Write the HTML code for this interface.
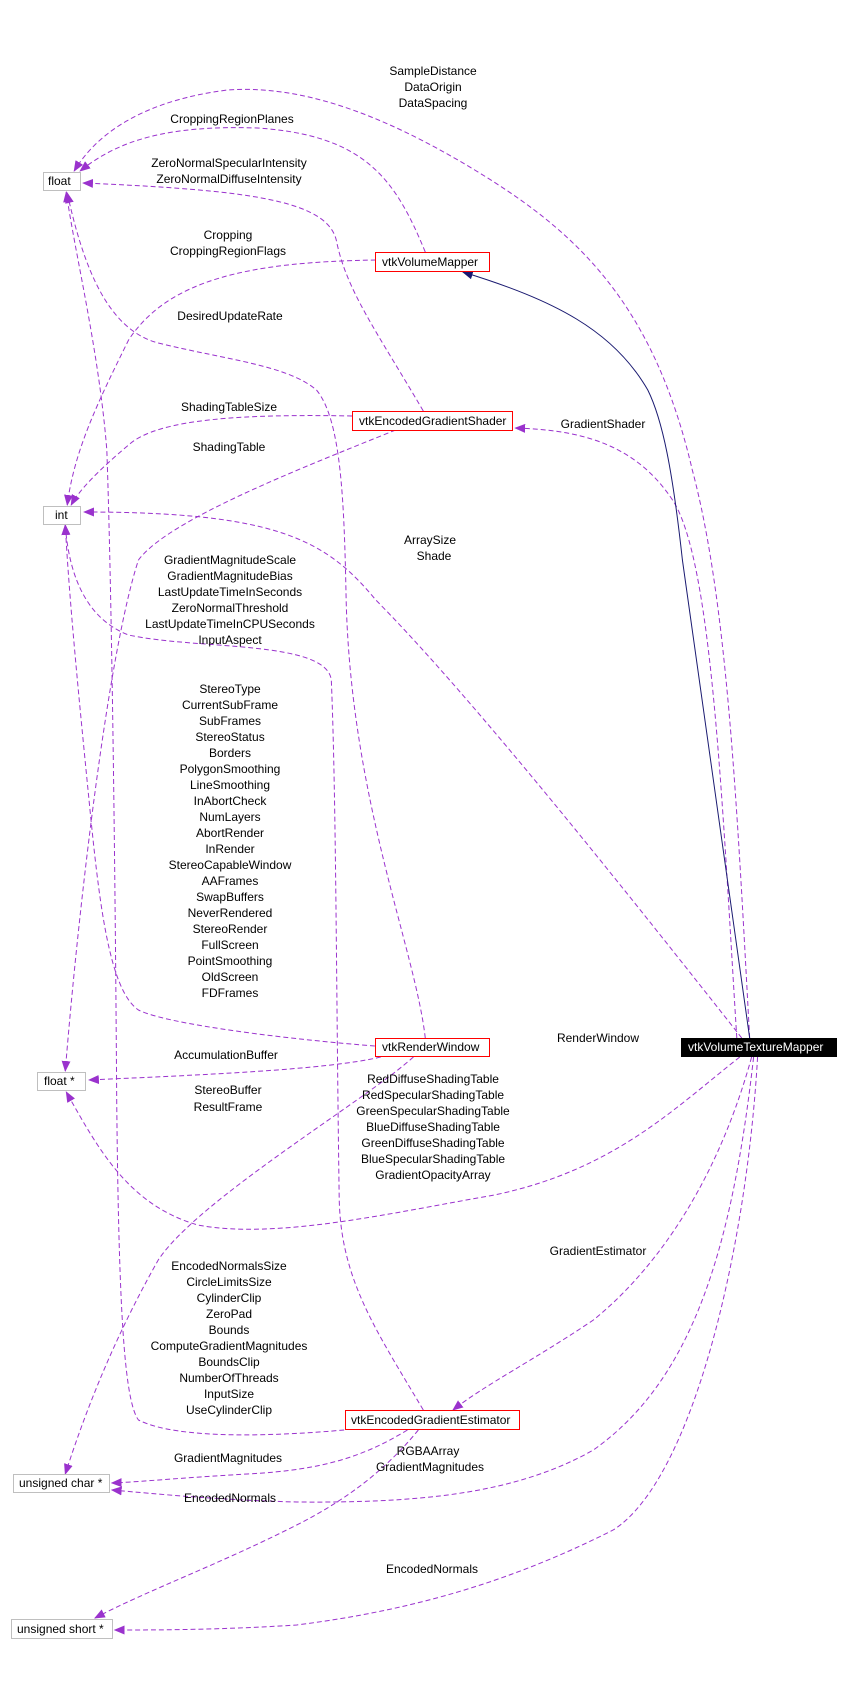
<!DOCTYPE html>
<html><head><meta charset="utf-8"><style>
html,body{margin:0;padding:0;background:#fff}
svg{display:block}
text{font-family:"Liberation Sans",Arial,sans-serif;font-size:12px;fill:#000}
</style></head><body>
<svg width="850" height="1685" viewBox="0 0 850 1685" xmlns="http://www.w3.org/2000/svg">
<defs>
<marker id="p" markerWidth="11" markerHeight="9" refX="10" refY="4.5" orient="auto" markerUnits="userSpaceOnUse"><path d="M0,0 L11,4.5 L0,9 Z" fill="#9a32cd"/></marker>
<marker id="n" markerWidth="11" markerHeight="9" refX="10" refY="4.5" orient="auto" markerUnits="userSpaceOnUse"><path d="M0,0 L11,4.5 L0,9 Z" fill="#191970"/></marker>
</defs>
<g fill="none" stroke="#9a32cd" stroke-width="1" stroke-dasharray="5,3" marker-end="url(#p)" transform="scale(0.989,1)">
<path d="M758 1038 C745 800,735 600,700 470 C660 300,580 230,480 170 C380 110,300 85,230 90 C150 100,100 130,75 171"/>
<path d="M430 252 C400 180,370 135,260 128 C170 125,120 140,81 171"/>
<path d="M428 411 C380 330,350 290,340 240 C330 200,250 190,84 183"/>
<path d="M380 260 C250 262,170 280,130 340 C100 400,75 450,68 505"/>
<path d="M430 1038 C420 950,355 800,350 600 C348 500,345 420,320 390 C290 365,230 360,160 343 C110 330,85 270,68 193"/>
<path d="M356 416 C250 414,160 418,130 445 C100 470,80 490,72 505"/>
<path d="M400 430 C300 470,170 520,140 560 C110 650,80 900,66 1071"/>
<path d="M750 1038 C640 900,480 700,380 600 C330 540,280 512,85 512"/>
<path d="M745 1038 C730 800,720 560,680 500 C640 440,580 430,521 428"/>
<path d="M379 1046 C300 1040,170 1025,140 1010 C110 990,100 900,90 800 C80 700,70 600,66 525"/>
<path d="M385 1057 C330 1070,200 1075,90 1080"/>
<path d="M418 1057 C370 1100,200 1200,160 1260 C120 1330,90 1400,66 1474"/>
<path d="M748 1057 C680 1110,620 1170,500 1195 C400 1212,280 1240,200 1225 C130 1205,100 1150,67 1092"/>
<path d="M760 1057 C720 1200,650 1280,600 1320 C540 1360,490 1385,458 1410"/>
<path d="M428 1410 C380 1330,345 1280,343 1200 C340 1000,340 800,335 680 C330 640,200 650,130 635 C90 620,70 580,66 525"/>
<path d="M348 1430 C280 1436,180 1440,140 1420 C125 1400,120 1300,118 1100 C116 800,112 560,108 450 C100 350,75 250,67 192"/>
<path d="M412 1430 C370 1455,330 1470,250 1474 C180 1478,140 1482,113 1483"/>
<path d="M423 1430 C390 1470,350 1500,300 1525 C220 1565,150 1590,96 1618"/>
<path d="M762 1057 C740 1250,700 1380,600 1450 C520 1495,420 1503,300 1502 C220 1500,160 1494,113 1490"/>
<path d="M766 1057 C755 1250,700 1480,620 1530 C520 1580,420 1610,300 1625 C220 1630,160 1630,116 1630"/>
<path d="M758 1038 L690 560 C680 470,670 420,655 390 C620 330,560 300,468 272" stroke="#191970" stroke-dasharray="none" marker-end="url(#n)"/>
</g>
<g stroke-width="1">
<rect x="43.5" y="172.5" width="37" height="18" fill="#fff" stroke="#bfbfbf"/>
<rect x="43.5" y="506.5" width="37" height="18" fill="#fff" stroke="#bfbfbf"/>
<rect x="37.5" y="1072.5" width="48" height="18" fill="#fff" stroke="#bfbfbf"/>
<rect x="13.5" y="1474.5" width="96" height="18" fill="#fff" stroke="#bfbfbf"/>
<rect x="11.5" y="1619.5" width="101" height="19" fill="#fff" stroke="#bfbfbf"/>
<rect x="375.5" y="252.5" width="114" height="19" fill="#fff" stroke="#ff0000"/>
<rect x="352.5" y="411.5" width="160" height="19" fill="#fff" stroke="#ff0000"/>
<rect x="375.5" y="1038.5" width="114" height="18" fill="#fff" stroke="#ff0000"/>
<rect x="345.5" y="1410.5" width="174" height="19" fill="#fff" stroke="#ff0000"/>
<rect x="681" y="1038" width="156" height="19" fill="#000"/>
</g>
<g dominant-baseline="central">
<text x="48" y="181">float</text>
<text x="55" y="515">int</text>
<text x="44" y="1081">float *</text>
<text x="19" y="1483">unsigned char *</text>
<text x="17" y="1629">unsigned short *</text>
<text x="382" y="262">vtkVolumeMapper</text>
<text x="359" y="421">vtkEncodedGradientShader</text>
<text x="382" y="1047">vtkRenderWindow</text>
<text x="351" y="1420">vtkEncodedGradientEstimator</text>
<text x="688" y="1047" style="fill:#fff">vtkVolumeTextureMapper</text>
</g>
<g text-anchor="middle" dominant-baseline="central">
<text x="433" y="71">SampleDistance</text>
<text x="433" y="87">DataOrigin</text>
<text x="433" y="103">DataSpacing</text>
<text x="232" y="119">CroppingRegionPlanes</text>
<text x="229" y="163">ZeroNormalSpecularIntensity</text>
<text x="229" y="179">ZeroNormalDiffuseIntensity</text>
<text x="228" y="235">Cropping</text>
<text x="228" y="251">CroppingRegionFlags</text>
<text x="230" y="316">DesiredUpdateRate</text>
<text x="229" y="407">ShadingTableSize</text>
<text x="229" y="447">ShadingTable</text>
<text x="603" y="424">GradientShader</text>
<text x="430" y="540">ArraySize</text>
<text x="434" y="556">Shade</text>
<text x="230" y="560">GradientMagnitudeScale</text>
<text x="230" y="576">GradientMagnitudeBias</text>
<text x="230" y="592">LastUpdateTimeInSeconds</text>
<text x="230" y="608">ZeroNormalThreshold</text>
<text x="230" y="624">LastUpdateTimeInCPUSeconds</text>
<text x="230" y="640">InputAspect</text>
<text x="230" y="689">StereoType</text>
<text x="230" y="705">CurrentSubFrame</text>
<text x="230" y="721">SubFrames</text>
<text x="230" y="737">StereoStatus</text>
<text x="230" y="753">Borders</text>
<text x="230" y="769">PolygonSmoothing</text>
<text x="230" y="785">LineSmoothing</text>
<text x="230" y="801">InAbortCheck</text>
<text x="230" y="817">NumLayers</text>
<text x="230" y="833">AbortRender</text>
<text x="230" y="849">InRender</text>
<text x="230" y="865">StereoCapableWindow</text>
<text x="230" y="881">AAFrames</text>
<text x="230" y="897">SwapBuffers</text>
<text x="230" y="913">NeverRendered</text>
<text x="230" y="929">StereoRender</text>
<text x="230" y="945">FullScreen</text>
<text x="230" y="961">PointSmoothing</text>
<text x="230" y="977">OldScreen</text>
<text x="230" y="993">FDFrames</text>
<text x="598" y="1038">RenderWindow</text>
<text x="226" y="1055">AccumulationBuffer</text>
<text x="228" y="1090">StereoBuffer</text>
<text x="228" y="1107">ResultFrame</text>
<text x="433" y="1079">RedDiffuseShadingTable</text>
<text x="433" y="1095">RedSpecularShadingTable</text>
<text x="433" y="1111">GreenSpecularShadingTable</text>
<text x="433" y="1127">BlueDiffuseShadingTable</text>
<text x="433" y="1143">GreenDiffuseShadingTable</text>
<text x="433" y="1159">BlueSpecularShadingTable</text>
<text x="433" y="1175">GradientOpacityArray</text>
<text x="598" y="1251">GradientEstimator</text>
<text x="229" y="1266">EncodedNormalsSize</text>
<text x="229" y="1282">CircleLimitsSize</text>
<text x="229" y="1298">CylinderClip</text>
<text x="229" y="1314">ZeroPad</text>
<text x="229" y="1330">Bounds</text>
<text x="229" y="1346">ComputeGradientMagnitudes</text>
<text x="229" y="1362">BoundsClip</text>
<text x="229" y="1378">NumberOfThreads</text>
<text x="229" y="1394">InputSize</text>
<text x="229" y="1410">UseCylinderClip</text>
<text x="228" y="1458">GradientMagnitudes</text>
<text x="428" y="1451">RGBAArray</text>
<text x="430" y="1467">GradientMagnitudes</text>
<text x="230" y="1498">EncodedNormals</text>
<text x="432" y="1569">EncodedNormals</text>
</g>
</svg>
</body></html>
